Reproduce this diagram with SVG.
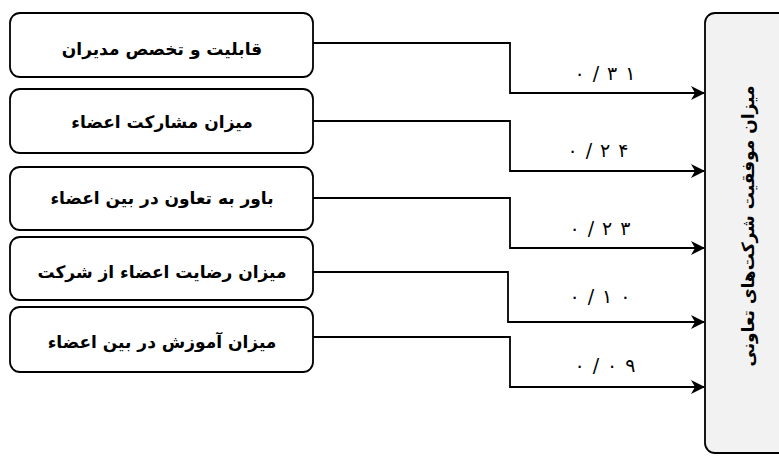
<svg xmlns="http://www.w3.org/2000/svg" width="779" height="457" viewBox="0 0 779 457">
<defs>
<style>
.box{fill:#ffffff;stroke:#000000;stroke-width:1.8}
.main{fill:#f2f2f2;stroke:#000000;stroke-width:1.8}
.t{font-family:"DejaVu Sans",sans-serif;font-weight:bold;font-size:17px;fill:#000;text-anchor:middle}
.n{font-family:"DejaVu Sans",sans-serif;font-size:19px;fill:#000;text-anchor:middle}
.c{fill:none;stroke:#000000;stroke-width:1.8}
</style>
<marker id="arr" viewBox="0 0 14 14" refX="13" refY="7" markerWidth="14" markerHeight="14" markerUnits="userSpaceOnUse" orient="auto">
<path d="M0,0 L14,7 L0,14 L4,7 Z" fill="#000"/>
</marker>
</defs>
<rect width="779" height="457" fill="#ffffff"/>
<g id="target">
<rect class="main" x="705" y="13" width="90" height="440" rx="10"/>
<text class="t" direction="rtl" transform="translate(748,226) rotate(-90)" y="6">میزان موفقیت شرکت‌های تعاونی</text>
</g>
<g id="n1">
<rect class="box" x="10" y="13" width="303" height="64" rx="10"/>
<text class="t" direction="rtl" x="162" y="55">قابلیت و تخصص مدیران</text>
</g>
<g id="n2">
<rect class="box" x="10" y="89" width="303" height="64" rx="10"/>
<text class="t" direction="rtl" x="162" y="128">میزان مشارکت اعضاء</text>
</g>
<g id="n3">
<rect class="box" x="10" y="167" width="303" height="63" rx="10"/>
<text class="t" direction="rtl" x="162" y="204">باور به تعاون در بین اعضاء</text>
</g>
<g id="n4">
<rect class="box" x="10" y="237" width="303" height="63" rx="10"/>
<text class="t" direction="rtl" x="162" y="278">میزان رضایت اعضاء از شرکت</text>
</g>
<g id="n5">
<rect class="box" x="10" y="307" width="303" height="65" rx="10"/>
<text class="t" direction="rtl" x="162" y="348">میزان آموزش در بین اعضاء</text>
</g>
<g id="connectors">
<path class="c" d="M313,43 H510 V93 H704" marker-end="url(#arr)"/>
<path class="c" d="M313,121 H510 V171 H704" marker-end="url(#arr)"/>
<path class="c" d="M313,198 H510 V248 H704" marker-end="url(#arr)"/>
<path class="c" d="M313,272 H508 V322 H704" marker-end="url(#arr)"/>
<path class="c" d="M313,337 H510 V387 H704" marker-end="url(#arr)"/>
<text class="n" x="605" y="80" dx="0 8 8 8">۰/۳۱</text>
<text class="n" x="598" y="157" dx="0 8 8 8">۰/۲۴</text>
<text class="n" x="600" y="235" dx="0 8 8 8">۰/۲۳</text>
<text class="n" x="600" y="303" dx="0 8 8 8">۰/۱۰</text>
<text class="n" x="605" y="372" dx="0 8 8 8">۰/۰۹</text>
</g>
</svg>
